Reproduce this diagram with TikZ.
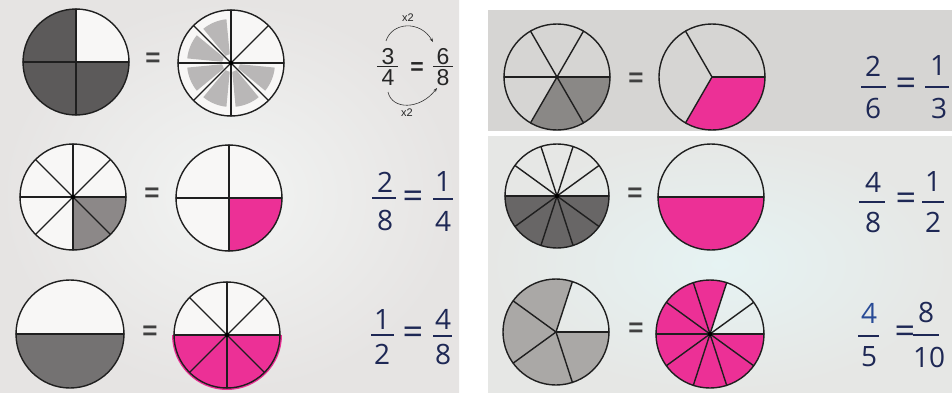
\documentclass[tikz,border=0pt]{standalone}
\usepackage{fontspec}
\usetikzlibrary{arrows.meta}
\setmainfont{Liberation Sans}
\newfontfamily\hwfont{Open Sans}
\definecolor{pinkc}{RGB}{236,48,150}
\definecolor{ink}{RGB}{30,40,85}
\definecolor{inkb}{RGB}{40,75,150}
\definecolor{dkA}{RGB}{92,90,90}
\definecolor{blot}{RGB}{185,183,183}
\definecolor{gB}{RGB}{140,136,136}
\definecolor{gC}{RGB}{116,114,114}
\definecolor{gD}{RGB}{138,136,134}
\definecolor{gE}{RGB}{104,102,102}
\definecolor{gF}{RGB}{170,168,166}
\definecolor{leftbg}{RGB}{230,228,227}
\definecolor{leftin}{RGB}{242,244,243}
\definecolor{topband}{RGB}{214,213,211}
\definecolor{rightbg}{RGB}{230,231,229}
\definecolor{rightin}{RGB}{230,243,243}
\definecolor{paper}{RGB}{248,247,246}
\newcommand\mysector[5]{\fill[#5] (#1) -- ([shift={(#3:#2)}]#1) arc[start angle=#3, end angle=#4, radius=#2] -- cycle;}
\newcommand\myspokes[4]{\foreach \k in {1,...,#3} {\draw[outl] (#1) -- ([shift={({#4+360*\k/#3}:#2)}]#1);}}
\newcommand\myrim[2]{\draw[outl] (#1) circle[radius=#2];}
\newcommand\myhub[1]{\fill[black] (#1) circle[radius=2.2];}
\newcommand\myblot[2]{\fill[blot] ([shift={(#2+8:9)}]#1) -- ([shift={(#2+6:44)}]#1) arc[start angle=#2+6, end angle=#2+39, radius=44] -- ([shift={(#2+37:9)}]#1) -- cycle;}
\begin{document}
\begin{tikzpicture}[x=1pt,y=1pt,
  outl/.style={line width=1.4pt, black!88, line cap=round},
  hw/.style={font=\hwfont\fontsize{28}{28}\selectfont, text=ink, inner sep=0pt},
  hweq/.style={font=\hwfont\fontsize{36}{36}\selectfont, text=ink, inner sep=0pt},
  pr/.style={font=\fontsize{23}{23}\selectfont, text=black!85, inner sep=0pt},
  small/.style={font=\fontsize{11}{11}\selectfont, text=black!85, inner sep=0pt},
  eqs/.style={font=\bfseries\fontsize{26}{26}\selectfont, text=black!75, inner sep=0pt},
  hwbar/.style={line width=1.2pt, ink},
  prbar/.style={line width=1.3pt, black!85},
  arr/.style={line width=0.6pt, black!80, -{Stealth[length=4pt,width=3pt]}}
]
\useasboundingbox (0,0) rectangle (952,392);
% backgrounds
\fill[white] (0,0) rectangle (952,392);
\shade[inner color=leftin, outer color=leftbg] (0,0) rectangle (459,392);
\fill[topband] (488,261) rectangle (952,382);
\shade[inner color=rightin, outer color=rightbg] (488,0) rectangle (952,256);
% centres
\coordinate (L1a) at (76,330);  \coordinate (L1b) at (231,329);
\coordinate (L2a) at (73,195);  \coordinate (L2b) at (229,194);
\coordinate (L3a) at (70,58);   \coordinate (L3b) at (227,57);
\coordinate (R1a) at (557,315); \coordinate (R1b) at (712,315);
\coordinate (R2a) at (557,196); \coordinate (R2b) at (711,195);
\coordinate (R3a) at (556,60);  \coordinate (R3b) at (710,58);
% left row 1
\fill[paper] (L1a) circle[radius=53];
\mysector{L1a}{53}{90}{360}{dkA}
\myspokes{L1a}{53}{4}{0}
\myrim{L1a}{53}
\fill[paper] (L1b) circle[radius=53];
\foreach \a in {90,135,180,225,270,315} {\myblot{L1b}{\a}}
\myspokes{L1b}{53}{8}{0}
\myrim{L1b}{53}
\myhub{L1b}
% left row 2
\fill[paper] (L2a) circle[radius=53];
\mysector{L2a}{53}{270}{360}{gB}
\myspokes{L2a}{53}{8}{0}
\myrim{L2a}{53}
\myhub{L2a}
\fill[paper] (L2b) circle[radius=53];
\mysector{L2b}{53}{270}{360}{pinkc}
\myspokes{L2b}{53}{4}{0}
\myrim{L2b}{53}
% left row 3
\fill[paper] (L3a) circle[radius=54];
\mysector{L3a}{54}{180}{360}{gC}
\myspokes{L3a}{54}{2}{0}
\myrim{L3a}{54}
\fill[paper] (L3b) circle[radius=53];
\mysector{L3b}{55}{180}{360}{pinkc}
\myspokes{L3b}{53}{8}{0}
\myrim{L3b}{53}
\myhub{L3b}
% right row 1
\mysector{R1a}{53}{240}{360}{gD}
\myspokes{R1a}{53}{6}{0}
\myrim{R1a}{53}
\mysector{R1b}{53}{240}{360}{pinkc}
\myspokes{R1b}{53}{3}{0}
\myrim{R1b}{53}
% right row 2
\mysector{R2a}{52}{180}{360}{gE}
\myspokes{R2a}{52}{10}{0}
\myrim{R2a}{52}
\myhub{R2a}
\mysector{R2b}{53}{180}{360}{pinkc}
\myspokes{R2b}{53}{2}{0}
\myrim{R2b}{53}
% right row 3
\mysector{R3a}{53}{72}{360}{gF}
\myspokes{R3a}{53}{5}{0}
\myrim{R3a}{53}
\mysector{R3b}{54}{72}{360}{pinkc}
\myspokes{R3b}{54}{10}{0}
\myrim{R3b}{54}
\myhub{R3b}
% equals between circles
\node[eqs] (e1) at (153,332) {=};
\node[eqs] (e2) at (152,197) {=};
\node[eqs] (e3) at (150,59) {=};
\node[eqs] (e4) at (636,312) {=};
\node[eqs] (e5) at (635,197) {=};
\node[eqs] (e6) at (636,62) {=};
% printed fraction 3/4 = 6/8
\node[pr] (p3) at (388,335) {3};
\node[pr] (p4) at (388,314) {4};
\draw[prbar] (377,325.5) -- (398,325.5);
\node[pr, font=\bfseries\fontsize{23}{23}\selectfont] (pe) at (417,323) {=};
\node[pr] (p6) at (443,335) {6};
\node[pr] (p8) at (443,314) {8};
\draw[prbar] (433,325.5) -- (453,325.5);
\node[small] (xt) at (408,374) {x2};
\node[small] (xb) at (407,279) {x2};
\coordinate (ts) at (386,351);
\coordinate (te) at (433,350);
\coordinate (bs) at (388,300);
\coordinate (be) at (437,304);
\draw[arr] (ts) .. controls (392,370) and (420,372) .. (te);
\draw[arr] (bs) .. controls (392,282) and (420,282) .. (be);
% handwritten left
\node[hw] (a2) at (385,210) {2};
\node[hw] (a8) at (385,172) {8};
\draw[hwbar] (372,194) -- (396,194);
\node[hweq] (ae) at (413,192) {=};
\node[hw] (a1) at (443,210) {1};
\node[hw] (a4) at (443,171) {4};
\draw[hwbar] (433,193) -- (453,193);
\node[hw] (b1) at (382,72) {1};
\node[hw] (b2) at (382,38) {2};
\node[hweq] (be2) at (413,56) {=};
\draw[hwbar] (371,57) -- (394,57);
\node[hw] (b4) at (443,73) {4};
\node[hw] (b8) at (443,38) {8};
\draw[hwbar] (433,56) -- (452,56);
% handwritten right
\node[hw] (c2) at (873,326) {2};
\node[hw] (c6) at (873,284) {6};
\draw[hwbar] (861,305) -- (886,305);
\node[hweq] (ce) at (906,305) {=};
\node[hw] (c1) at (938,326) {1};
\node[hw] (c3) at (939,284) {3};
\draw[hwbar] (925,305) -- (949,305);
\node[hw] (d4) at (873,210) {4};
\node[hw] (d8) at (873,170) {8};
\draw[hwbar] (859,190) -- (885,190);
\node[hweq] (de) at (906,190) {=};
\node[hw] (d1) at (933,210) {1};
\node[hw] (d2) at (933,170) {2};
\draw[hwbar] (922,190) -- (944,190);
\node[hw, text=inkb] (f4) at (869,79) {4};
\node[hw] (f5) at (869,35) {5};
\draw[hwbar] (858,56) -- (879,56);
\node[hweq] (fe) at (905,57) {=};
\node[hw] (f8) at (926,80) {8};
\node[hw] (f10) at (929,35) {10};
\draw[hwbar] (913,57) -- (939,57);
\end{tikzpicture}
\end{document}
